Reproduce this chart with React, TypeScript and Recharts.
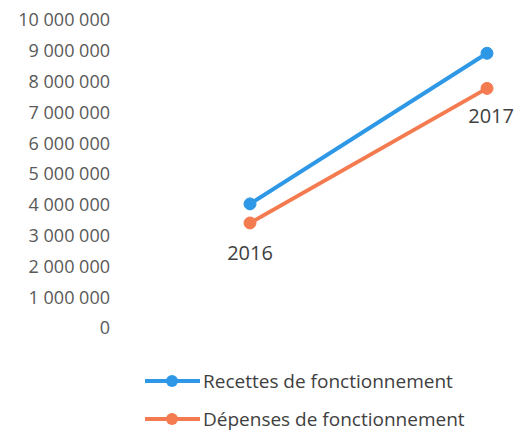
import React from 'react';
import { LineChart, Line, XAxis, YAxis, Legend, LabelList } from 'recharts';

const years = ['2016', '2017'];
const recettes = [4030000, 8920000];
const depenses = [3410000, 7780000];
const yTicks = [0, 1000000, 2000000, 3000000, 4000000, 5000000, 6000000, 7000000, 8000000, 9000000, 10000000];

const BLUE = '#2F98E6';
const ORANGE = '#F47B50';
const FONT = '"Open Sans", "Noto Sans", sans-serif';

const data = years.map((year, i) => ({
  year,
  recettes: recettes[i],
  depenses: depenses[i],
}));

const fmt = (v: number) => String(v).replace(/\B(?=(\d{3})+(?!\d))/g, ' ');

const series = [
  { key: 'recettes', name: 'Recettes de fonctionnement', color: BLUE },
  { key: 'depenses', name: 'Dépenses de fonctionnement', color: ORANGE },
];

function YearLabel(props: any) {
  const { x, y, value, index } = props;
  // first label sits under the point, the last one hugs the right edge
  const first = index === 0;
  return (
    <text
      x={first ? x : x + 27}
      y={y + (first ? 30 : 27)}
      textAnchor={first ? 'middle' : 'end'}
      dominantBaseline="central"
      fontFamily={FONT}
      fontSize={20}
      fill="#404040"
    >
      {value}
    </text>
  );
}

function LegendBox() {
  return (
    <div style={{ fontFamily: FONT, fontSize: 19, color: '#404040' }}>
      {series.map((s) => (
        <div key={s.key} style={{ display: 'flex', alignItems: 'center', height: 38 }}>
          <svg width={57} height={14} style={{ display: 'block' }}>
            <line x1={0} y1={7} x2={55} y2={7} stroke={s.color} strokeWidth={4} />
            <circle cx={27} cy={7} r={6} fill={s.color} />
          </svg>
          <span style={{ marginLeft: 1 }}>{s.name}</span>
        </div>
      ))}
    </div>
  );
}

export default function App() {
  return (
    <div style={{ position: 'absolute', left: 0, top: 0, width: 516, height: 432, background: '#fff' }}>
      <LineChart
        width={516}
        height={432}
        data={data}
        margin={{ top: 20, right: 20, bottom: 104, left: 0 }}
      >
        <XAxis dataKey="year" hide padding={{ left: 132, right: 9 }} />
        <YAxis
          width={118}
          domain={[0, 10000000]}
          ticks={yTicks}
          interval={0}
          tickFormatter={fmt}
          axisLine={false}
          tickLine={false}
          tick={{ fill: '#595959', fontSize: 18, fontFamily: FONT }}
        />
        <Legend
          layout="horizontal"
          verticalAlign="middle"
          align="center"
          content={<LegendBox />}
          wrapperStyle={{ top: 362, left: 145, width: 370 }}
        />
        <Line
          type="linear"
          dataKey="recettes"
          name="Recettes de fonctionnement"
          stroke={BLUE}
          strokeWidth={4}
          dot={{ r: 6, fill: BLUE, stroke: BLUE, strokeWidth: 1 }}
          isAnimationActive={false}
        />
        <Line
          type="linear"
          dataKey="depenses"
          name="Dépenses de fonctionnement"
          stroke={ORANGE}
          strokeWidth={4}
          dot={{ r: 6, fill: ORANGE, stroke: ORANGE, strokeWidth: 1 }}
          isAnimationActive={false}
        >
          <LabelList dataKey="year" content={<YearLabel />} />
        </Line>
      </LineChart>
    </div>
  );
}
